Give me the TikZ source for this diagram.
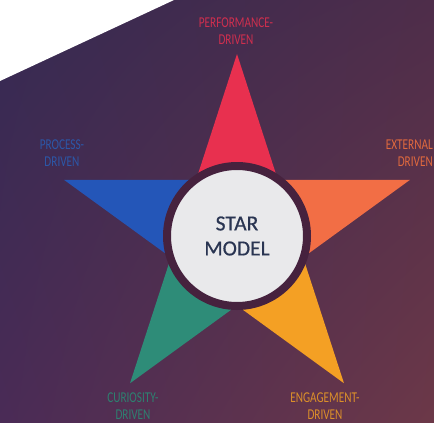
\documentclass[tikz,border=0pt]{standalone}
\usepackage{fontspec}
\setmainfont{Carlito}
\newfontfamily\lblfont{Carlito}[FakeStretch=0.75]
\newfontfamily\corefont{Carlito}[FakeBold=0.6]
\usetikzlibrary{calc,shadings}
\definecolor{bgA}{HTML}{352A52}
\definecolor{bgB}{HTML}{4E2D4A}
\definecolor{bgC}{HTML}{4A2B56}
\definecolor{bgD}{HTML}{6C3848}
\definecolor{ringc}{HTML}{46223E}
\definecolor{corec}{HTML}{E9E9EB}
\definecolor{redA}{HTML}{E8304F}
\definecolor{orA}{HTML}{F26E45}
\definecolor{yeA}{HTML}{F4A024}
\definecolor{grA}{HTML}{2E8C78}
\definecolor{blA}{HTML}{2456B8}
\definecolor{redT}{HTML}{CF2F4E}
\definecolor{orT}{HTML}{E0693E}
\definecolor{yeT}{HTML}{DB8F2A}
\definecolor{grT}{HTML}{2E8070}
\definecolor{blT}{HTML}{2C57A8}
\definecolor{navyT}{HTML}{2A3552}
\tikzset{
  lbl/.style={align=center, font=\lblfont\fontsize{15}{16.5}\selectfont, inner sep=0pt},
  core/.style={circle, fill=corec, draw=ringc, line width=8pt, minimum size=140pt, inner sep=0pt,
    align=center, text=navyT, font=\corefont\fontsize{21.5}{25}\selectfont}
}
\begin{document}
\begin{tikzpicture}[x=1pt,y=-1pt]
\useasboundingbox (0,0) rectangle (434,423);
\shade[upper left=bgA, upper right=bgB, lower left=bgC, lower right=bgD] (0,0) rectangle (434,423);
\fill[white] (0,0) -- (174,0) -- (0,81) -- cycle;
\coordinate (c) at (237,236);
\foreach \n/\a in {t1/-90, t2/-18, t3/54, t4/126, t5/198}
  \coordinate (\n) at ($(c)+(\a:182)$);
\foreach \n/\a in {i1/-54, i2/18, i3/90, i4/162, i5/234}
  \coordinate (\n) at ($(c)+(\a:69.5)$);
\fill[redA] (t1) -- (i1) -- (c) -- (i5) -- cycle;
\fill[orA]  (t2) -- (i2) -- (c) -- (i1) -- cycle;
\fill[yeA]  (t3) -- (i3) -- (c) -- (i2) -- cycle;
\fill[grA]  (t4) -- (i4) -- (c) -- (i3) -- cycle;
\fill[blA]  (t5) -- (i5) -- (c) -- (i4) -- cycle;
\node[core] (star) at (c) {STAR\\MODEL};
\node[lbl, text=redT] (perf) at (236,31) {PERFORMANCE-\\DRIVEN};
\node[lbl, text=blT] (proc) at (62,153) {PROCESS-\\DRIVEN};
\node[lbl, text=orT, align=right, anchor=east] (ext) at (433,153) {EXTERNAL\\DRIVEN};
\node[lbl, text=grT] (cur) at (133,406) {CURIOSITY-\\DRIVEN};
\node[lbl, text=yeT] (eng) at (325,406) {ENGAGEMENT-\\DRIVEN};
\end{tikzpicture}
\end{document}
